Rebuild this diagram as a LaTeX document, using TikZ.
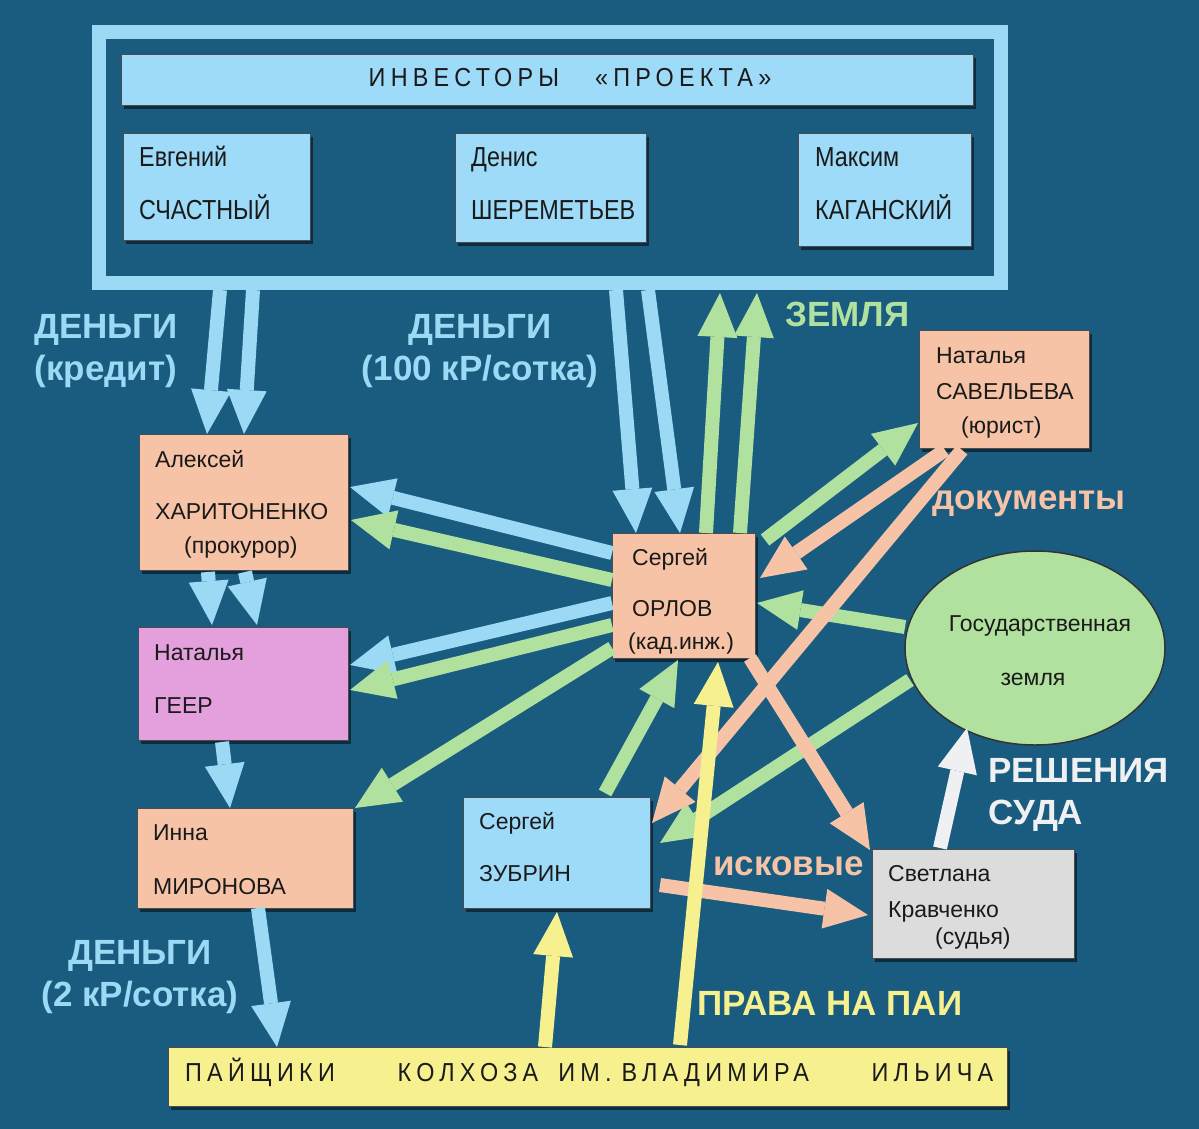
\documentclass[tikz,border=0pt]{standalone}
\usepackage{fontspec}
\setmainfont{Liberation Sans}
\newfontfamily\condf[FakeStretch=0.85]{Liberation Sans}
\newfontfamily\spacef[FakeStretch=0.9,LetterSpace=20]{Liberation Sans}
\usetikzlibrary{arrows.meta,shapes.geometric,shadows,calc}
\definecolor{bg}{HTML}{1A5C80}
\definecolor{lb}{HTML}{9BD9F5}
\definecolor{lbbox}{HTML}{9DDBF8}
\definecolor{salm}{HTML}{F6C3A6}
\definecolor{grn}{HTML}{B0E19F}
\definecolor{pink}{HTML}{E3A0DC}
\definecolor{yel}{HTML}{F7F08F}
\definecolor{gry}{HTML}{DCDCDC}
\definecolor{wht}{HTML}{EEF0F2}
\definecolor{ink}{HTML}{1A1A1A}
\begin{document}
\begin{tikzpicture}[x=1pt,y=-1pt,
  box/.style={draw=black!70,line width=0.7pt,inner sep=0pt,outer sep=0pt,anchor=north west,
    drop shadow={shadow xshift=3pt,shadow yshift=-4pt,opacity=0.5,fill=black}},
  txt/.style={anchor=base west,inner sep=0pt,font=\fontsize{23}{27}\selectfont,text=ink},
  ctxt/.style={anchor=base west,inner sep=0pt,font=\condf\fontsize{27.5}{30}\selectfont,text=ink},
  stxt/.style={inner sep=0pt,font=\spacef\fontsize{26}{29}\selectfont,text=ink},
  lbl/.style={inner sep=0pt,font=\bfseries\fontsize{35}{40}\selectfont},
  arr/.style={line width=14pt,-{Triangle[width=40pt 0 0,length=44pt 0 0,line width=0pt 0 0]}}]
\useasboundingbox (0,0) rectangle (1199,1129);
\fill[bg] (0,0) rectangle (1199,1129);

% investors frame
\node[draw=lb,line width=14pt,inner sep=0pt,outer sep=0pt,minimum width=902pt,minimum height=251pt,anchor=north west] (frame) at (99,32) {};
\node[box,fill=lbbox,minimum width=852pt,minimum height=51pt] (hdr) at (121,54) {};
\node[stxt,anchor=base] (hdrt) at (570,87) {ИНВЕСТОРЫ\hspace{36pt}«ПРОЕКТА»};
\node[box,fill=lbbox,minimum width=187pt,minimum height=107pt] (evg) at (123,133) {};
\node[box,fill=lbbox,minimum width=191pt,minimum height=109pt] (den) at (455,133) {};
\node[box,fill=lbbox,minimum width=173pt,minimum height=113pt] (mak) at (798,133) {};
\node[ctxt] (evg1) at (139,167) {Евгений};
\node[ctxt] (evg2) at (139,219) {СЧАСТНЫЙ};
\node[ctxt] (den1) at (471,167) {Денис};
\node[ctxt] (den2) at (471,219) {ШЕРЕМЕТЬЕВ};
\node[ctxt] (mak1) at (815,167) {Максим};
\node[ctxt] (mak2) at (815,219) {КАГАНСКИЙ};

% people
\node[box,fill=salm,minimum width=209pt,minimum height=136pt] (har) at (139,434) {};
\node[txt] (har1) at (155,467) {Алексей};
\node[txt] (har2) at (155,519) {ХАРИТОНЕНКО};
\node[txt] (har3) at (184,553) {(прокурор)};

\node[box,fill=pink,minimum width=210pt,minimum height=113pt] (geer) at (138,627) {};
\node[txt] (geer1) at (154,660) {Наталья};
\node[txt] (geer2) at (154,713) {ГЕЕР};

\node[box,fill=salm,minimum width=216pt,minimum height=100pt] (mir) at (137,808) {};
\node[txt] (mir1) at (153,840) {Инна};
\node[txt] (mir2) at (153,894) {МИРОНОВА};

\node[box,fill=salm,minimum width=143pt,minimum height=125pt] (orl) at (612,533) {};
\node[txt] (orl1) at (632,565) {Сергей};
\node[txt] (orl2) at (632,616) {ОРЛОВ};
\node[txt] (orl3) at (628,649) {(кад.инж.)};

\node[box,fill=salm,minimum width=170pt,minimum height=118pt] (sav) at (919,330) {};
\node[txt] (sav1) at (936,363) {Наталья};
\node[txt] (sav2) at (936,399) {САВЕЛЬЕВА};
\node[txt] (sav3) at (961,433) {(юрист)};

\node[ellipse,draw=black!80,line width=1.5pt,fill=grn,inner sep=0pt,outer sep=0pt,minimum width=260pt,minimum height=194pt] (land) at (1035,648) {};
\node[txt,anchor=base] (land1) at (1040,631) {Государственная};
\node[txt,anchor=base] (land2) at (1033,685) {земля};

\node[box,fill=lbbox,minimum width=187pt,minimum height=111pt] (zub) at (463,797) {};
\node[txt] (zub1) at (479,829) {Сергей};
\node[txt] (zub2) at (479,881) {ЗУБРИН};

\node[box,fill=gry,minimum width=202pt,minimum height=109pt] (sve) at (872,849) {};
\node[txt] (sve1) at (888,881) {Светлана};
\node[txt] (sve2) at (888,917) {Кравченко};
\node[txt] (sve3) at (935,944) {(судья)};

\node[box,fill=yel,minimum width=839pt,minimum height=59pt] (bar) at (168,1047) {};
\node[stxt,anchor=base west] (bart) at (185,1081) {\makebox[808pt][s]{ПАЙЩИКИ\hfill КОЛХОЗА\hspace{20pt}ИМ.\hspace{10pt}ВЛАДИМИРА\hfill ИЛЬИЧА}};

% blue arrows (money)
\draw[arr,color=lb] ($(frame.south west)+(121,7)$) -- ($(har.north west)+(68,0)$);
\draw[arr,color=lb] ($(frame.south west)+(154,7)$) -- ($(har.north west)+(105,0)$);
\draw[arr,color=lb] ($(frame.south west)+(517,7)$) -- ($(orl.north west)+(24,0)$);
\draw[arr,color=lb] ($(frame.south west)+(549,7)$) -- ($(orl.north west)+(68,0)$);
\draw[arr,color=lb] ($(har.south west)+(69,2)$) -- ($(geer.north west)+(74,-2)$);
\draw[arr,color=lb] ($(har.south west)+(106,2)$) -- ($(geer.north west)+(119,-2)$);
\draw[arr,color=lb] ($(geer.south west)+(84,2)$) -- ($(mir.north west)+(93,0)$);
\draw[arr,color=lb] ($(mir.south west)+(121,0)$) -- ($(bar.north west)+(109,0)$);
\draw[arr,color=lb] ($(orl.north west)+(0,20)$) -- ($(har.north east)+(2,53)$);
\draw[arr,color=lb] ($(orl.north west)+(0,70)$) -- ($(geer.north east)+(2,38)$);

% green arrows (land)
\draw[arr,color=grn] ($(orl.north west)+(94,0)$) -- ($(frame.south west)+(621,10)$);
\draw[arr,color=grn] ($(orl.north west)+(128,0)$) -- ($(frame.south west)+(658,10)$);
\draw[arr,color=grn] ($(orl.north west)+(0,47)$) -- ($(har.north east)+(3,86)$);
\draw[arr,color=grn] ($(orl.north west)+(0,92)$) -- ($(geer.north east)+(2,63)$);
\draw[arr,color=grn] ($(orl.north west)+(0,115)$) -- ($(mir.north east)+(2,0)$);
\draw[arr,color=grn] ($(orl.north east)+(10,7)$) -- ($(sav.south west)+(-1,-25)$);
\draw[arr,color=grn] ($(land.west)+(0,-21)$) -- ($(orl.north east)+(2,70)$);
\draw[arr,color=grn] ($(land.west)+(5,32)$) -- ($(zub.north east)+(10,46)$);
\draw[arr,color=grn] ($(zub.north west)+(142,-4)$) -- ($(orl.south west)+(66,2)$);

% salmon arrows (documents)
\draw[arr,color=salm] ($(sav.south west)+(26,2)$) -- ($(orl.north east)+(5,45)$);
\draw[arr,color=salm] ($(sav.south west)+(43,2)$) -- ($(zub.north east)+(2,26)$);
\draw[arr,color=salm] ($(orl.south east)+(-5,0)$) -- ($(sve.north west)+(-2,1)$);
\draw[arr,color=salm] ($(zub.south east)+(10,-23)$) -- ($(sve.south west)+(-4,-43)$);

% white arrow
\draw[arr,color=wht] ($(sve.north west)+(68,-1)$) -- ($(land.south)+(-68,-17)$);

% yellow arrows (rights)
\draw[arr,color=yel] ($(bar.north west)+(377,0)$) -- ($(zub.south west)+(94,4)$);
\draw[arr,color=yel] ($(bar.north west)+(512,-2)$) -- ($(orl.south west)+(106,4)$);

% labels
\node[lbl,text=lb,anchor=base] (l1a) at (106,338) {ДЕНЬГИ};
\node[lbl,text=lb,anchor=base] (l1b) at (106,380) {(кредит)};
\node[lbl,text=lb,anchor=base] (l2a) at (480,338) {ДЕНЬГИ};
\node[lbl,text=lb,anchor=base] (l2b) at (480,380) {(100 кР/сотка)};
\node[lbl,text=grn,anchor=base west] (l3) at (785,326) {ЗЕМЛЯ};
\node[lbl,text=salm,anchor=base west] (l4) at (932,509) {документы};
\node[lbl,text=wht,anchor=base west] (l5a) at (988,782) {РЕШЕНИЯ};
\node[lbl,text=wht,anchor=base west] (l5b) at (988,824) {СУДА};
\node[lbl,text=salm,anchor=base west] (l6) at (713,875) {исковые};
\node[lbl,text=lb,anchor=base] (l7a) at (140,964) {ДЕНЬГИ};
\node[lbl,text=lb,anchor=base] (l7b) at (140,1006) {(2 кР/сотка)};
\node[lbl,text=yel,anchor=base west] (l8) at (697,1015) {ПРАВА НА ПАИ};
\end{tikzpicture}
\end{document}
